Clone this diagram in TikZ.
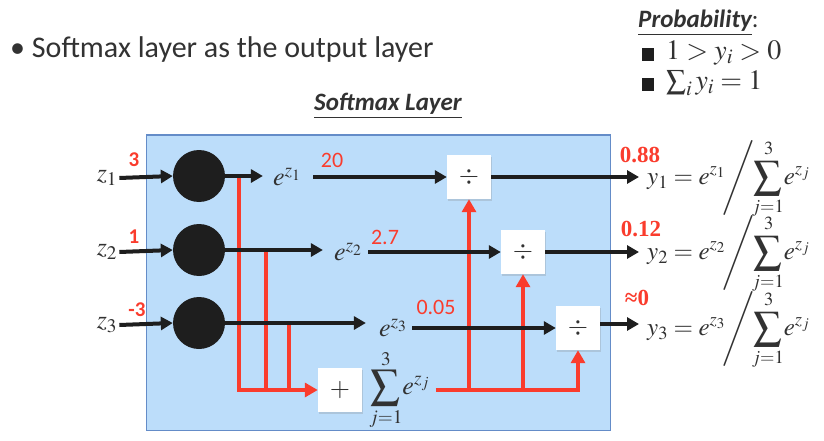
\documentclass[tikz,border=0pt]{standalone}
\usepackage{mathptmx}
\usepackage{graphicx}
\usepackage[no-math]{fontspec}
\setmainfont{Liberation Serif}
\newfontfamily\calibri{Carlito}
\usetikzlibrary{arrows.meta,shadows}
\definecolor{panelblue}{RGB}{188,221,250}
\definecolor{paneledge}{RGB}{100,140,200}
\definecolor{sigred}{RGB}{250,60,45}
\definecolor{ink}{RGB}{30,30,30}
\definecolor{txt}{RGB}{50,50,50}
% an enlarged display-style summation sign that keeps its limits
\newcommand{\bigsum}{\mathop{\vcenter{\hbox{\scalebox{1.12}{$\displaystyle\sum$}}}}\limits}
% normalised output: y_k = e^{z_k} / sum_j e^{z_j}
\newcommand{\softout}[1]{$\displaystyle y_{#1}=e^{z_{#1}}\!\Bigg/\!\!\bigsum_{j=1}^{\,3\vphantom{j}}\!e^{z_j}$}
\begin{document}
\begin{tikzpicture}[x=1pt,y=-1pt,
  blk/.style={draw=ink,line width=4pt,-{Triangle[length=12pt,width=13pt]}},
  redl/.style={draw=sigred,line width=4pt},
  redarr/.style={redl,-{Triangle[length=13pt,width=14pt]}},
  neuron/.style={circle,fill=ink,minimum size=52pt,inner sep=0pt},
  opbox/.style={fill=white,minimum size=44pt,inner sep=0pt,text=txt,
    font=\fontsize{26}{30}\selectfont,
    drop shadow={opacity=0.25,shadow xshift=1pt,shadow yshift=-1.5pt}},
  mlbl/.style={inner sep=2pt,text=txt,font=\fontsize{26}{30}\selectfont},
  formula/.style={anchor=west,inner sep=2pt,text=txt,font=\fontsize{25}{30}\selectfont},
  redsans/.style={inner sep=0pt,text=sigred,font=\calibri\fontsize{22}{26}\selectfont},
  redbold/.style={inner sep=0pt,text=sigred,font=\calibri\bfseries\fontsize{21}{26}\selectfont},
  redserif/.style={inner sep=0pt,text=sigred,font=\bfseries\fontsize{23}{26}\selectfont},
]
\useasboundingbox (0,0) rectangle (824,441);
\fill[white] (0,0) rectangle (824,441);

% heading text
\node[anchor=west,inner sep=0pt,text=txt,font=\calibri\fontsize{30}{34}\selectfont]
  (bullet) at (10,50) {\textbullet\ Softmax layer as the output layer};
\node[inner sep=0pt,text=txt,font=\calibri\bfseries\itshape\fontsize{25}{28}\selectfont]
  (ttl) at (388,106) {\underline{Softmax Layer}};

% probability notes
\node[anchor=west,inner sep=0pt,text=txt,font=\calibri\fontsize{25}{28}\selectfont]
  (prob) at (638,23) {\underline{\bfseries\itshape Probability}:};
\node[fill=ink,minimum width=12pt,minimum height=13pt,inner sep=0pt] (sq1) at (648,55) {};
\node[fill=ink,minimum width=12pt,minimum height=13pt,inner sep=0pt] (sq2) at (648,85) {};
\node[anchor=west,inner sep=0pt,text=txt,font=\fontsize{28}{32}\selectfont]
  (c1) at (666,53) {$1 > y_i > 0$};
\node[anchor=west,inner sep=0pt,text=txt,font=\fontsize{28}{32}\selectfont]
  (c2) at (666,83) {$\sum_i y_i = 1$};

% softmax panel
\node[draw=paneledge,fill=panelblue,line width=1pt,minimum width=464pt,
  minimum height=295pt,inner sep=0pt] (panel) at (378.5,282.5) {};

% inputs
\node[mlbl] (z1) at (107,178) {$z_1$};
\node[mlbl] (z2) at (107,252) {$z_2$};
\node[mlbl] (z3) at (107,325) {$z_3$};
\node[redbold] (v1) at (134,160) {3};
\node[redbold] (v2) at (134,237) {1};
\node[redbold] (v3) at (137,310) {-3};

% exponent units
\node[neuron] (n1) at (199,176) {};
\node[neuron] (n2) at (199,250) {};
\node[neuron] (n3) at (199,323) {};

\node[mlbl] (e1) at (287,177) {$e^{z_1}$};
\node[mlbl] (e2) at (348,252) {$e^{z_2}$};
\node[mlbl] (e3) at (393,328) {$e^{z_3}$};
\node[redsans] (x1) at (332,160) {20};
\node[redsans] (x2) at (385,237) {2.7};
\node[redsans] (x3) at (436,307) {0.05};

% summation and division units
\node[opbox] (plus) at (340,390) {$+$};
\node[mlbl,anchor=west] (sumn) at (367,390) {$\displaystyle\bigsum_{j=1}^{3}\!e^{z_j}$};
\node[opbox] (d1) at (469,177) {$\div$};
\node[opbox] (d2) at (523,252) {$\div$};
\node[opbox] (d3) at (578,328) {$\div$};

% outputs
\node[formula] (y1) at (645,179) {\softout{1}};
\node[formula] (y2) at (645,254) {\softout{2}};
\node[formula] (y3) at (645,330) {\softout{3}};
\node[redserif] (p1) at (640,155) {0.88};
\node[redserif] (p2) at (641,229) {0.12};
\node[redserif] (p3) at (637,298) {≈0};

% taps into the sum
\coordinate (t1) at (239,176);
\coordinate (t2) at (266,250);
\coordinate (t3) at (289,323);
\draw[redarr] (t1) |- (plus.west);
\draw[redl] (t2) -- (t2 |- plus.west);
\draw[redl] (t3) -- (t3 |- plus.west);

% sum fanned out to the dividers
\draw[redarr,shorten <=4pt] (sumn.east) -| (d3.south);
\draw[redarr] (d1.south |- sumn.east) -- (d1.south);
\draw[redarr] (d2.south |- sumn.east) -- (d2.south);

% forward path
\draw[blk] (z1.east) -- (n1.west);
\draw[blk] (z2.east) -- (n2.west);
\draw[blk] (z3.east) -- (n3.west);
\draw[blk,shorten >=8pt] (n1.east) -- (n1.east -| e1.west);
\draw[blk,shorten >=9pt] (n2.east) -- (n2.east -| e2.west);
\draw[blk,shorten >=11pt] (n3.east) -- (n3.east -| e3.west);
\draw[blk,shorten <=10pt] (e1.east) -- (e1.east -| d1.west);
\draw[blk,shorten <=4pt] (e2.east) -- (e2.east -| d2.west);
\draw[blk,shorten <=3pt] (e3.east) -- (e3.east -| d3.west);
\draw[blk,shorten >=6pt] (d1.east) -- (d1.east -| y1.west);
\draw[blk,shorten >=6pt] (d2.east) -- (d2.east -| y2.west);
\draw[blk,shorten >=6pt] ([yshift=4pt]d3.east) -- ([yshift=4pt]d3.east -| y3.west);
\end{tikzpicture}
\end{document}
